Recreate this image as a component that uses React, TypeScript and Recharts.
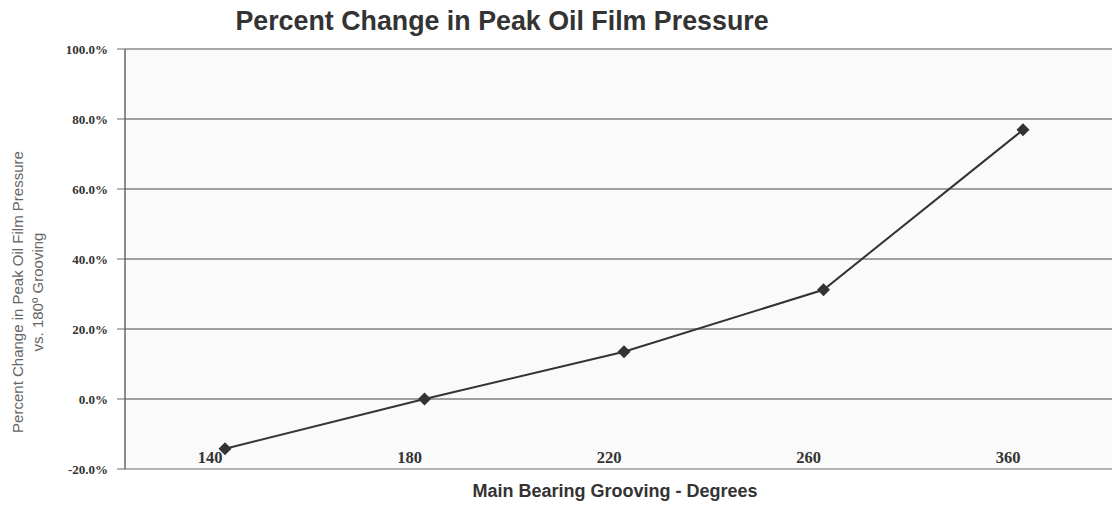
import { LineChart, Line, XAxis, YAxis, CartesianGrid, ReferenceLine } from 'recharts'

const grooving = ['140', '180', '220', '260', '360']
const pctChange = [-14.2, 0, 13.5, 31.2, 76.9]
const yTicks = [-20, 0, 20, 40, 60, 80, 100]

const data = grooving.map((g, i) => ({ grooving: g, pct: pctChange[i] }))

const Diamond = (props: any) => {
  const { cx, cy, index } = props
  if (cx == null || cy == null) return null
  const r = 6.5
  return (
    <polygon
      key={index}
      points={`${cx},${cy - r} ${cx + r},${cy} ${cx},${cy + r} ${cx - r},${cy}`}
      fill="#333"
    />
  )
}

const XTick = (props: any) => {
  const { x, y, payload } = props
  return (
    <text
      x={x - 15}
      y={y - 6}
      textAnchor="middle"
      fontFamily="'Liberation Serif', serif"
      fontWeight="bold"
      fontSize={16.5}
      fill="#333"
    >
      {payload.value}
    </text>
  )
}

export default function App() {
  return (
    <div style={{ position: 'absolute', left: 0, top: 0, width: 1112, height: 508, background: '#fff' }}>
      <div style={{ position: 'absolute', left: 0, top: 0 }}>
        <LineChart width={1112} height={508} data={data} margin={{ top: 49, right: 0, bottom: 0, left: 0 }}>
          <CartesianGrid vertical={false} stroke="#444" strokeWidth={1.2} fill="#fafafa" />
          <XAxis
            dataKey="grooving"
            height={39}
            padding={{ left: 100, right: 89 }}
            axisLine={false}
            tickLine={false}
            tickSize={0}
            tickMargin={0}
            tick={<XTick />}
            interval={0}
          />
          <YAxis
            width={125}
            domain={[-20, 100]}
            ticks={yTicks}
            interval={0}
            axisLine={{ stroke: '#666', strokeWidth: 1.5 }}
            tickLine={{ stroke: '#666' }}
            tickSize={8}
            tickMargin={9}
            tickFormatter={(v: number) => `${v.toFixed(1)}%`}
            tick={{ fontFamily: "'Liberation Serif', serif", fontWeight: 'bold', fontSize: 13, fill: '#333' }}
          />
          <ReferenceLine y={100} stroke="#aaa" strokeWidth={1.5} />
          <ReferenceLine y={-20} stroke="#bbb" strokeWidth={1.5} />
          <Line
            dataKey="pct"
            stroke="#333"
            strokeWidth={2}
            dot={<Diamond />}
            activeDot={false}
            isAnimationActive={false}
          />
        </LineChart>
      </div>
      <div
        style={{
          position: 'absolute',
          left: 502,
          top: 6,
          transform: 'translateX(-50%)',
          whiteSpace: 'nowrap',
          fontFamily: "'Liberation Sans', Arial, sans-serif",
          fontWeight: 'bold',
          fontSize: 26.8,
          color: '#333',
        }}
      >
        Percent Change in Peak Oil Film Pressure
      </div>
      <div
        style={{
          position: 'absolute',
          left: 28,
          top: 292,
          transform: 'translate(-50%, -50%) rotate(-90deg)',
          whiteSpace: 'nowrap',
          textAlign: 'center',
          fontFamily: "'Liberation Sans', Arial, sans-serif",
          fontSize: 15,
          lineHeight: '20px',
          color: '#666',
        }}
      >
        Percent Change in Peak Oil Film Pressure
        <br />
        vs. 180º Grooving
      </div>
      <div
        style={{
          position: 'absolute',
          left: 615,
          top: 481,
          transform: 'translateX(-50%)',
          whiteSpace: 'nowrap',
          fontFamily: "'Liberation Sans', Arial, sans-serif",
          fontWeight: 'bold',
          fontSize: 18,
          color: '#333',
        }}
      >
        Main Bearing Grooving - Degrees
      </div>
    </div>
  )
}
